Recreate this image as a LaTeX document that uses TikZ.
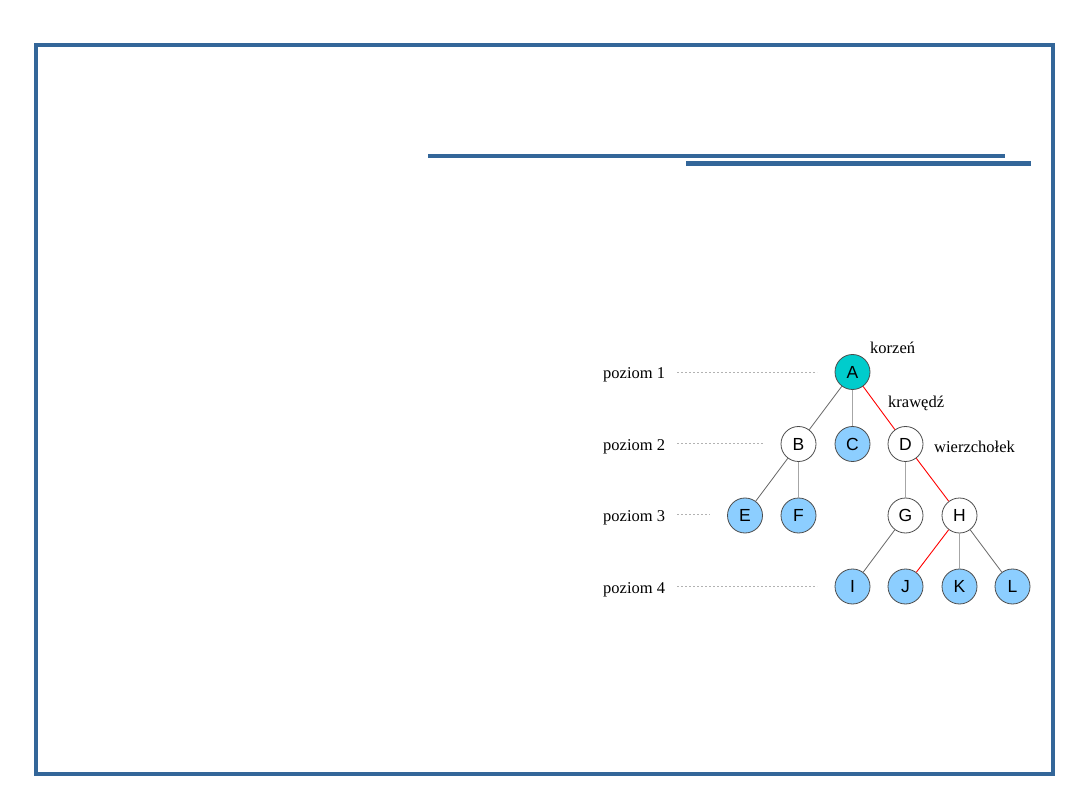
\documentclass[tikz,border=0pt]{standalone}
\usepackage{fontspec}
\setmainfont{Liberation Serif}
\newfontfamily\nodefont{Liberation Sans}
\definecolor{framecol}{RGB}{51,102,153}
\definecolor{rootcol}{RGB}{0,204,204}
\definecolor{leafcol}{RGB}{140,206,255}
\tikzset{
  vtx/.style={circle,draw=black!70,line width=0.8pt,minimum size=35pt,inner sep=0pt,font=\nodefont\fontsize{17.5}{17.5}\selectfont},
  leaf/.style={vtx,fill=leafcol},
  lbl/.style={anchor=west,inner sep=0pt,font=\fontsize{16.5}{18}\selectfont},
  edge/.style={draw=black!60,line width=0.8pt},
  vedge/.style={draw=black!35,line width=1pt},
  redge/.style={draw=red,line width=0.9pt},
  levelline/.style={draw=black!30,line width=0.8pt,dash pattern=on 2pt off 2pt}
}
\begin{document}
\begin{tikzpicture}[x=1pt,y=-1pt]
  \useasboundingbox (0,0) rectangle (1080,810);
  % frame and title bars
  \draw[framecol,line width=4pt] (36,45) rectangle (1053,774);
  \draw[framecol,line width=4pt] (428,156) -- (1005,156);
  \draw[framecol,line width=5pt] (686,163.5) -- (1031,163.5);
  % tree
  \node[vtx,fill=rootcol] (A) at (852.5,372) {A};
  \node[vtx] (B) at (798.5,444) {B};
  \node[leaf] (C) at (852.5,444) {C};
  \node[vtx] (D) at (905.5,444) {D};
  \node[leaf] (E) at (745,515.5) {E};
  \node[leaf] (F) at (798.5,515.5) {F};
  \node[vtx] (G) at (905.5,515.5) {G};
  \node[vtx] (H) at (959.5,515.5) {H};
  \node[leaf] (I) at (852.5,586.5) {I};
  \node[leaf] (J) at (905.5,586.5) {J};
  \node[leaf] (K) at (959.5,586.5) {K};
  \node[leaf] (L) at (1012.5,586.5) {L};
  \draw[edge] (A) -- (B);
  \draw[vedge] (A) -- (C);
  \draw[redge] (A) -- (D);
  \draw[edge] (B) -- (E);
  \draw[vedge] (B) -- (F);
  \draw[vedge] (D) -- (G);
  \draw[redge] (D) -- (H);
  \draw[edge] (G) -- (I);
  \draw[redge] (H) -- (J);
  \draw[vedge] (H) -- (K);
  \draw[edge] (H) -- (L);
  % levels
  \node[lbl] (p1) at (603,375) {poziom 1};
  \node[lbl] (p2) at (603,447) {poziom 2};
  \node[lbl] (p3) at (603,518) {poziom 3};
  \node[lbl] (p4) at (603,590) {poziom 4};
  \coordinate (d1) at (817,372);
  \coordinate (d2) at (763,443);
  \coordinate (d3) at (710,514.5);
  \coordinate (d4) at (817,586.5);
  \draw[levelline] (677,372) -- (d1);
  \draw[levelline] (677,443) -- (d2);
  \draw[levelline] (677,514.5) -- (d3);
  \draw[levelline] (677,586.5) -- (d4);
  % annotations
  \node[lbl] (korzen) at (870,348) {korzeń};
  \node[lbl] (krawedz) at (888,403) {krawędź};
  \node[lbl] (wierzcholek) at (934,447) {wierzchołek};
\end{tikzpicture}
\end{document}
